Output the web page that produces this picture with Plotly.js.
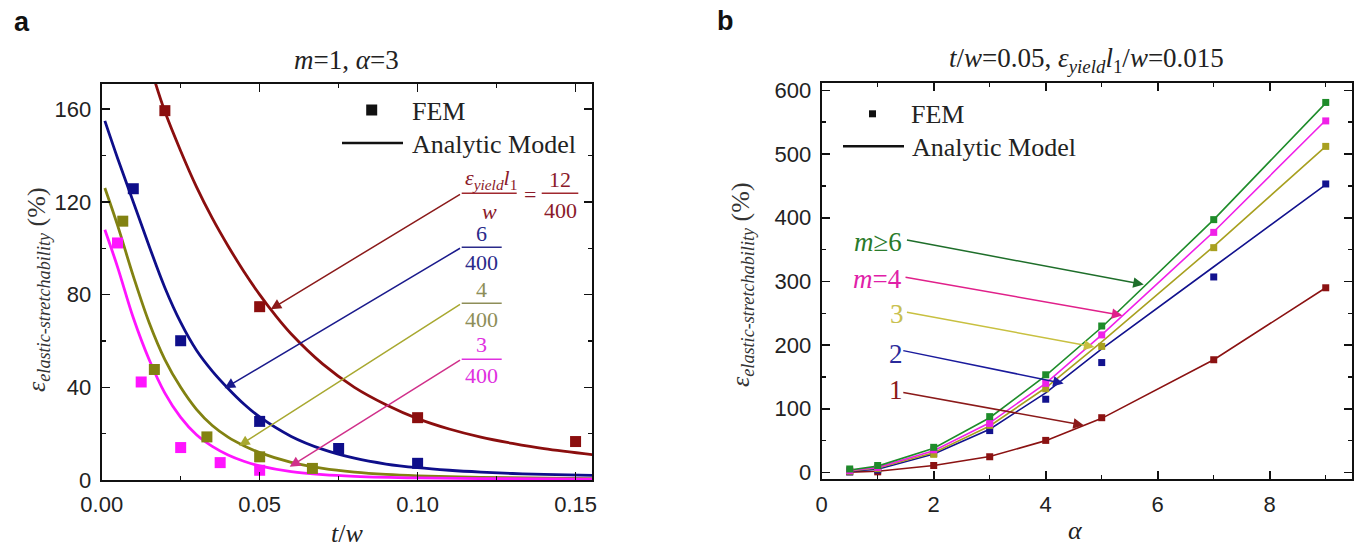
<!DOCTYPE html>
<html><head><meta charset="utf-8">
<script src="https://cdn.plot.ly/plotly-3.0.1.min.js"></script>
<style>html,body{margin:0;padding:0;background:#fff}#c{width:1363px;height:549px}</style>
</head><body><div id="c"></div>
<script>
// ---------- Panel a data (m=1, alpha=3) ----------
const femX_12 = [0.02, 0.05, 0.10, 0.15];
const femY_12 = [159.4, 74.8, 26.9, 16.6];
const femX_6 = [0.01, 0.025, 0.05, 0.075, 0.10];
const femY_6 = [125.7, 60.1, 25.3, 13.6, 7.2];
const femX_4 = [0.00667, 0.01667, 0.0333, 0.05, 0.0667];
const femY_4 = [111.7, 47.7, 18.6, 10.0, 5.0];
const femX_3 = [0.005, 0.0125, 0.025, 0.0375, 0.05];
const femY_3 = [102.3, 42.3, 14.0, 7.5, 4.2];

const anX_12 = [0.0165, 0.02, 0.025, 0.03, 0.035, 0.04, 0.045, 0.05, 0.055, 0.06, 0.07, 0.08, 0.09, 0.10, 0.11, 0.12, 0.13, 0.14, 0.156];
const anY_12 = [173.5, 159, 142, 126.5, 113, 101, 90, 80, 71, 63, 50, 40, 32.5, 26.5, 22, 18.5, 15.8, 13.5, 10.8];
const anX_6 = [0.001, 0.005, 0.01, 0.015, 0.02, 0.025, 0.03, 0.035, 0.04, 0.045, 0.05, 0.06, 0.07, 0.08, 0.09, 0.10, 0.11, 0.12, 0.13, 0.14, 0.156];
const anY_6 = [155, 139, 120, 101, 83, 68, 56, 47, 39.5, 32.8, 27.2, 18.8, 13.2, 9.4, 6.9, 5.3, 4.2, 3.4, 2.8, 2.4, 2.0];
const anX_4 = [0.001, 0.005, 0.01, 0.015, 0.02, 0.025, 0.03, 0.035, 0.04, 0.045, 0.05, 0.06, 0.07, 0.08, 0.09, 0.10, 0.12, 0.156];
const anY_4 = [126, 110, 88, 68, 52, 40, 30.5, 23.5, 18.5, 14.8, 11.8, 7.6, 5, 3.4, 2.4, 1.8, 1.1, 0.6];
const anX_3 = [0.001, 0.005, 0.01, 0.015, 0.02, 0.025, 0.03, 0.035, 0.04, 0.045, 0.05, 0.06, 0.07, 0.08, 0.10, 0.12, 0.156];
const anY_3 = [108, 92, 70, 52, 37.5, 27, 19.5, 14.5, 10.8, 8.1, 6.1, 3.6, 2.3, 1.6, 0.9, 0.6, 0.4];

// ---------- Panel b data (t/w=0.05) ----------
const alpha = [0.5, 1, 2, 3, 4, 5, 7, 9];
const femB_m6 = [5.5, 11, 39.5, 87.7, 153.4, 230, 397, 581];
const femB_m4 = [3, 8, 35.6, 77, 140, 216, 377, 552];
const femB_m3 = [2, 6, 28.5, 74, 131.5, 198, 353, 512];
const femB_m2 = [1, 4, 30, 65.8, 115, 172.6, 307, 453];
const femB_m1 = [1, 1, 11, 24.7, 50.4, 86, 177, 290];
const anB_m6 = [4, 10, 38, 86, 152, 228, 397, 580];
const anB_m4 = [3, 8, 34, 78, 140, 216, 378, 553];
const anB_m3 = [2.5, 7, 31, 73, 133, 205, 355, 512];
const anB_m2 = [2, 5, 29, 68, 125, 194, 323, 452];
const anB_m1 = [0.5, 2, 11, 25, 50, 85, 177, 290];

const C = {r:'#8B0E0E', b:'#0E0E8A', o:'#828212', m:'#FF14FF'};
const CB = {g:'#1E8C2A', m:'#F020E8', o:'#A8A020', b:'#12128E', r:'#8B1212'};

const W = 1363, H = 549;
const PX = v => v / W, PY = v => 1 - v / H;

const traces = [];
function lineA(x, y, c) { traces.push({x, y, mode:'lines', line:{color:c, width:2.8, shape:'spline', smoothing:1}, xaxis:'x', yaxis:'y', hoverinfo:'skip'}); }
function femA(x, y, c) { traces.push({x, y, mode:'markers', marker:{symbol:'square', size:11, color:c}, xaxis:'x', yaxis:'y', cliponaxis:false}); }
lineA(anX_12, anY_12, C.r); lineA(anX_6, anY_6, C.b); lineA(anX_4, anY_4, C.o); lineA(anX_3, anY_3, C.m);
femA(femX_12, femY_12, C.r); femA(femX_6, femY_6, C.b); femA(femX_4, femY_4, C.o); femA(femX_3, femY_3, C.m);

function lineB(y, c) { traces.push({x:alpha, y, mode:'lines', line:{color:c, width:1.6}, xaxis:'x2', yaxis:'y2'}); }
function femB(y, c) { traces.push({x:alpha, y, mode:'markers', marker:{symbol:'square', size:7, color:c}, xaxis:'x2', yaxis:'y2', cliponaxis:false}); }
lineB(anB_m1, CB.r); lineB(anB_m2, CB.b); lineB(anB_m3, CB.o); lineB(anB_m4, CB.m); lineB(anB_m6, CB.g);
femB(femB_m1, CB.r); femB(femB_m2, CB.b); femB(femB_m3, CB.o); femB(femB_m4, CB.m); femB(femB_m6, CB.g);

const SERIF = 'Liberation Serif, Times New Roman, serif';
const SANS = 'Liberation Sans, Arial, sans-serif';

function axis(domain, range, dtick, minor, anchor) {
  return {domain, range, dtick, tick0:0, anchor, showline:true, linewidth:2, linecolor:'#111', mirror:'allticks',
    ticks:'inside', ticklen:8, tickwidth:1.6, tickcolor:'#111', showgrid:false, zeroline:false,
    minor:{dtick:minor, tick0:0, ticks:'inside', ticklen:4, tickwidth:1.4, tickcolor:'#111', showgrid:false},
    tickfont:{family:SANS, size:22, color:'#222'}, ticklabelstandoff:4, fixedrange:true};
}
const xa = axis([101.7/W, 592/W], [0, 0.1552], 0.05, 0.025, 'y');
xa.tickformat = '.2f';
const ya = axis([1-480/H, 1-84/H], [0, 170.9], 40, 20, 'x');
const xb = axis([821.7/W, 1351.5/W], [0, 9.46], 2, 1, 'y2');
const yb = axis([1-479.3/H, 1-82.7/H], [-10.7, 612], 100, 50, 'x2');

const ann = [];
const shapes = [];
function txt(x, y, text, size, color, opts) {
  ann.push(Object.assign({xref:'paper', yref:'paper', x:PX(x), y:PY(y), text, showarrow:false,
    font:{family:SERIF, size, color}, xanchor:'center', yanchor:'middle'}, opts||{}));
}
function hline(x0, x1, y, color, w) {
  shapes.push({type:'line', xref:'paper', yref:'paper', x0:PX(x0), x1:PX(x1), y0:PY(y), y1:PY(y), line:{color, width:w}});
}
function arrow(xr, yr, tip, tail, color) {
  ann.push({xref:xr, yref:yr, axref:xr, ayref:yr, x:tip[0], y:tip[1], ax:tail[0], ay:tail[1], text:'',
    showarrow:true, arrowhead:2, arrowsize:1.4, arrowwidth:1.5, arrowcolor:color, standoff:0});
}

// panel labels
txt(22, 22, '<b>a</b>', 26, '#111', {font:{family:SANS, size:27, color:'#111'}});
txt(726, 21, '<b>b</b>', 26, '#111', {font:{family:SANS, size:27, color:'#111'}});
// titles
txt(346.8, 60, '<i>m</i>=1, <i>α</i>=3', 27, '#222');
txt(1086, 60, '<i>t</i>/<i>w</i>=0.05, <i>ε</i><sub><i>yield</i></sub><i>l</i><sub>1</sub>/<i>w</i>=0.015', 27, '#222');
// axis titles
txt(346.8, 533, '<i>t</i>/<i>w</i>', 26, '#222');
txt(1075, 530, '<i>α</i>', 26, '#222');
txt(38, 290, '<i>ε</i><sub><i>elastic-stretchability</i></sub> (%)', 26, '#333', {textangle:-90});
txt(742, 285, '<i>ε</i><sub><i>elastic-stretchability</i></sub> (%)', 26, '#333', {textangle:-90});

// legend a
shapes.push({type:'rect', xref:'paper', yref:'paper', x0:PX(366.2), x1:PX(377.2), y0:PY(104.5), y1:PY(115.5), fillcolor:'#111', line:{width:0}});
txt(410, 111, 'FEM', 26, '#222', {xanchor:'left'});
hline(342, 403, 143, '#111', 2.6);
txt(410, 144, 'Analytic Model', 26, '#222', {xanchor:'left'});
// legend b
shapes.push({type:'rect', xref:'paper', yref:'paper', x0:PX(869), x1:PX(876), y0:PY(110.3), y1:PY(117.3), fillcolor:'#111', line:{width:0}});
txt(908.5, 114, 'FEM', 26, '#222', {xanchor:'left'});
hline(843, 904, 146.3, '#111', 2.6);
txt(910, 147, 'Analytic Model', 26, '#222', {xanchor:'left'});

// panel a arrows + fraction labels
arrow('x', 'y', [0.0535, 73.7], [0.1139, 123.7], '#8B1A1A');
arrow('x', 'y', [0.0389, 39.6], [0.1139, 100.4], '#1A1A8C');
arrow('x', 'y', [0.0435, 14.8], [0.1139, 76.2], '#A8A830');
arrow('x', 'y', [0.0595, 5.7], [0.1139, 52.1], '#D0308A');
hline(461.7, 516.7, 193.3, '#A0282E', 1.6);
txt(491, 179, '<i>ε</i><sub><i>yield</i></sub><i>l</i><sub>1</sub>', 22, '#8B1A2A');
txt(490, 211, '<i>w</i>', 22, '#8B1A2A');
txt(530, 195, '=', 22, '#8B1A2A');
hline(541.7, 578.3, 193.3, '#A0282E', 1.6);
txt(560, 180, '12', 22, '#8B1A2A');
txt(560, 210, '400', 22, '#8B1A2A');
hline(461.7, 501.7, 247.3, '#2A2A8A', 1.6);
txt(482, 233, '6', 22, '#2A2A8A');
txt(482, 263, '400', 22, '#2A2A8A');
hline(461.7, 501.7, 303.3, '#8E8E58', 1.6);
txt(482, 289, '4', 22, '#8E8E58');
txt(482, 319, '400', 22, '#8E8E58');
hline(461.7, 501.7, 359.3, '#E030E0', 1.6);
txt(482, 344, '3', 22, '#E030E0');
txt(482, 375, '400', 22, '#E030E0');

// panel b arrows + labels
arrow('x2', 'y2', [5.75, 295], [1.495, 365.5], '#1E6E2A');
arrow('x2', 'y2', [5.37, 246.6], [1.47, 307], '#E0208A');
arrow('x2', 'y2', [4.87, 197], [1.495, 252], '#C8C040');
arrow('x2', 'y2', [4.32, 139.8], [1.43, 191.8], '#1A1A9C');
arrow('x2', 'y2', [4.68, 74], [1.43, 126], '#8B1A1A');
txt(904, 242, '<i>m</i>≥6', 27, '#2A7A2A', {xanchor:'right'});
txt(904, 279, '<i>m</i>=4', 27, '#E020A8', {xanchor:'right'});
txt(897, 314, '3', 27, '#C8C050');
txt(896, 354, '2', 27, '#2A2A9A');
txt(896, 390, '1', 27, '#8B1A1A');

const layout = {width:W, height:H, margin:{l:0, r:0, t:0, b:0}, paper_bgcolor:'#fff', plot_bgcolor:'#fff',
  showlegend:false, xaxis:xa, yaxis:ya, xaxis2:xb, yaxis2:yb, annotations:ann, shapes};
Plotly.newPlot('c', traces, layout, {staticPlot:true, displayModeBar:false});
</script></body></html>
